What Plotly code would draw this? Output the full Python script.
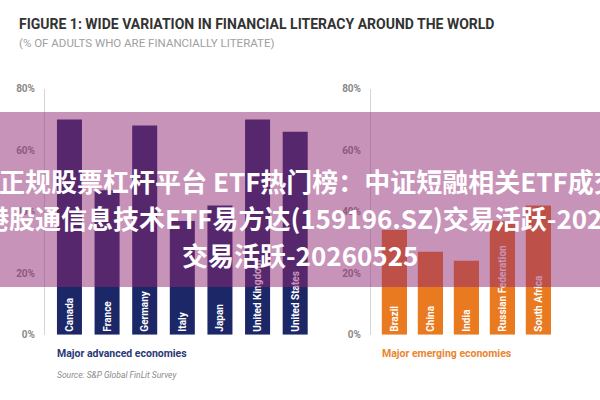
import plotly.graph_objects as go

W, H = 600, 400

# ---- data ----
adv_countries = ["Canada", "France", "Germany", "Italy", "Japan", "United Kingdom", "United States"]
adv_values = [70, 47, 68, 37, 42, 70, 66]
emg_countries = ["Brazil", "China", "India", "Russian Federation", "South Africa"]
emg_values = [34, 27, 24, 37, 42]
y_ticks = [0, 20, 40, 60, 80]
y_tick_labels = ["0%", "20%", "40%", "60%", "80%"]

title = "FIGURE 1: WIDE VARIATION IN FINANCIAL LITERACY AROUND THE WORLD"
subtitle = "(% OF ADULTS WHO ARE FINANCIALLY LITERATE)"
adv_label = "Major advanced economies"
emg_label = "Major emerging economies"
source = "Source: S&P Global FinLit Survey"
overlay_lines = [
    "正规股票杠杆平台 ETF热门榜：中证短融相关ETF成交",
    "港股通信息技术ETF易方达(159196.SZ)交易活跃-2026",
    "交易活跃-20260525",
]

NAVY = "#1c2768"
ORANGE = "#e97a20"


def px(x):
    return x / W


def py(y):
    return 1 - y / H


fig = go.Figure()
fig.add_trace(go.Bar(
    x=list(range(len(adv_countries))), y=adv_values, text=adv_countries,
    marker=dict(color=NAVY, line=dict(width=0)), width=0.665,
    textposition="inside", insidetextanchor="start", textangle=-90,
    textfont=dict(family="Roboto", size=10, color="white", weight="bold"),
    constraintext="none", xaxis="x", yaxis="y", hoverinfo="skip",
))
fig.add_trace(go.Bar(
    x=list(range(len(emg_countries))), y=emg_values, text=emg_countries,
    marker=dict(color=ORANGE, line=dict(width=0)), width=0.7,
    textposition="inside", insidetextanchor="start", textangle=-90,
    textfont=dict(family="Roboto", size=10, color="white", weight="bold"),
    constraintext="none", xaxis="x2", yaxis="y2", hoverinfo="skip",
))

yax = dict(
    range=[0, 80], tickvals=y_ticks, ticktext=y_tick_labels,
    showgrid=False, zeroline=False, showline=True, linecolor="#d4d4d4", linewidth=1,
    ticks="", ticklabelstandoff=7,
    tickfont=dict(family="Roboto", size=10, color="#8a8a8a", weight="bold"),
    domain=[py(339), py(86)], fixedrange=True,
)
xax = dict(showgrid=False, zeroline=False, showline=False, showticklabels=False, ticks="", fixedrange=True)

fig.update_layout(
    width=W, height=H, margin=dict(l=0, r=0, t=0, b=0),
    paper_bgcolor="white", plot_bgcolor="rgba(0,0,0,0)", showlegend=False,
    xaxis=dict(xax, domain=[px(45), px(314)], range=[-0.65, 6.5], anchor="y"),
    xaxis2=dict(xax, domain=[px(371), px(556.4)], range=[-0.65, 4.5], anchor="y2"),
    yaxis=dict(yax, anchor="x"),
    yaxis2=dict(yax, anchor="x2"),
)

ann = []
ann.append(dict(text=title, x=px(17), y=py(20), xref="paper", yref="paper", xanchor="left", yanchor="middle",
                showarrow=False, font=dict(family="Roboto", size=14, color="#333333", weight="bold")))
ann.append(dict(text=subtitle, x=px(17), y=py(39), xref="paper", yref="paper", xanchor="left", yanchor="middle",
                showarrow=False, font=dict(family="Roboto", size=11.5, color="#a0a0a0")))
ann.append(dict(text=adv_label, x=px(55), y=py(358), xref="paper", yref="paper", xanchor="left", yanchor="middle",
                showarrow=False, font=dict(family="Roboto", size=10.5, color="#2b3877", weight="bold")))
ann.append(dict(text=emg_label, x=px(380), y=py(358), xref="paper", yref="paper", xanchor="left", yanchor="middle",
                showarrow=False, font=dict(family="Roboto", size=10.5, color="#ea8530", weight="bold")))
ann.append(dict(text="<i>" + source + "</i>", x=px(55), y=py(380), xref="paper", yref="paper", xanchor="left",
                yanchor="middle", showarrow=False, font=dict(family="Roboto", size=8.5, color="#8a8a8a")))

cjk_font = dict(family="Noto Sans CJK SC", size=26, color="white", weight="bold")
ann.append(dict(text=overlay_lines[0], x=px(-3), y=py(180), xref="paper", yref="paper", xanchor="left",
                yanchor="middle", showarrow=False, font=cjk_font))
ann.append(dict(text=overlay_lines[1], x=px(-19), y=py(218), xref="paper", yref="paper", xanchor="left",
                yanchor="middle", showarrow=False, font=cjk_font))
ann.append(dict(text=overlay_lines[2], x=px(300), y=py(257), xref="paper", yref="paper", xanchor="center",
                yanchor="middle", showarrow=False, font=cjk_font))
fig.update_layout(annotations=ann)

fig.add_shape(type="rect", xref="paper", yref="paper", x0=0, x1=1, y0=py(290), y1=py(110),
              fillcolor="rgba(145,40,115,0.5)", line=dict(width=0), layer="above")

fig.write_html("out.html")
